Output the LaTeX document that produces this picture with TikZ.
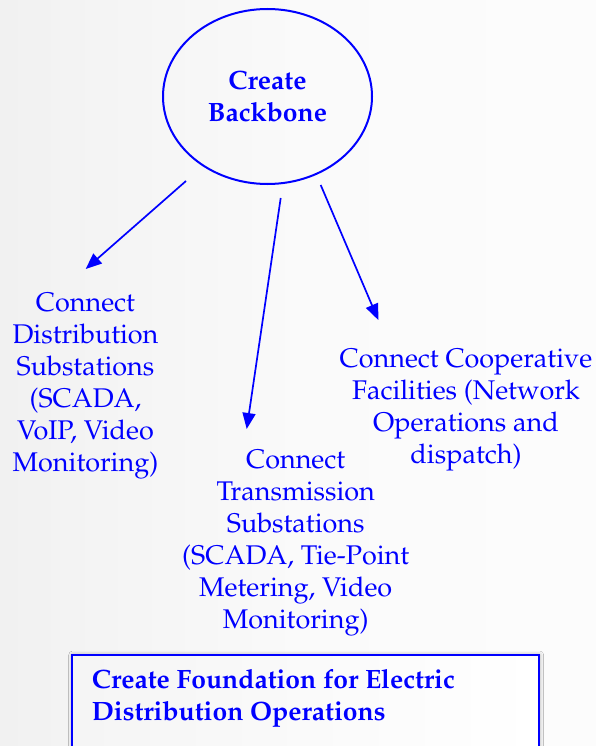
\documentclass[tikz,border=0pt]{standalone}
\IfFileExists{mathpazo.sty}{%
  \usepackage[T1]{fontenc}
  \usepackage{mathpazo}
  \newcommand\regsize{\fontsize{27}{32}\selectfont}
  \newcommand\boldsize{\fontsize{26.5}{32}\selectfont}
}{%
  \usepackage{fontspec}
  \setmainfont{Liberation Serif}
  \newcommand\regsize{\fontsize{29}{32}\selectfont}
  \newcommand\boldsize{\fontsize{27.5}{32}\selectfont}
}
\usetikzlibrary{arrows.meta,shapes.geometric,shadows.blur}

% soft grey-to-white page background
\pgfdeclarehorizontalshading{pagebg}{100bp}{color(0bp)=(black!9); color(50bp)=(black!2); color(100bp)=(white)}

\begin{document}
\begin{tikzpicture}[x=1pt,y=-1pt,
  lbl/.style={text=blue, font=\regsize, align=center, inner sep=0pt, anchor=north},
  ttl/.style={text=blue, font=\boldsize\bfseries, inner sep=0pt},
  link/.style={draw=blue, line width=1.7pt, -{Triangle[length=16pt,width=13pt]}}]
\useasboundingbox (0,0) rectangle (596,746);
\shade[shading=pagebg] (0,0) rectangle (596,746);

% central goal
\node[ttl, ellipse, draw=blue, line width=2pt, minimum width=209pt, minimum height=175pt, align=center] (bb) at (267.5,96.5) {Create\\Backbone};

% connected sites
\node[lbl] (dist) at (85.5,293) {Connect\\Distribution\\Substations\\(SCADA,\\VoIP, Video\\Monitoring)};
\node[lbl] (trans) at (295.7,450) {Connect\\Transmission\\Substations\\(SCADA, Tie-Point\\Metering, Video\\Monitoring)};
\node[lbl] (coop) at (466,349) {Connect Cooperative\\Facilities (Network\\Operations and\\dispatch)};

% arrow end points
\coordinate (a1s) at (186,181);
\coordinate (a1e) at (85.7,269);
\coordinate (a2s) at (280.7,198);
\coordinate (a2e) at (246.7,429);
\coordinate (a3s) at (320.7,185);
\coordinate (a3e) at (378.3,320);
\draw[link] (a1s) -- (a1e);
\draw[link] (a2s) -- (a2e);
\draw[link] (a3s) -- (a3e);

% foundation box
\node[draw=blue, line width=2pt, left color=black!4, right color=white,
      minimum width=467pt, minimum height=130pt, anchor=north west,
      blur shadow={shadow xshift=1pt, shadow yshift=0pt, shadow blur radius=4pt, shadow opacity=35}] (found) at (70.7,654) {};
\node[ttl, anchor=north west, align=left] (foundtext) at (91.7,669.5) {Create Foundation for Electric\\Distribution Operations};
\end{tikzpicture}
\end{document}
